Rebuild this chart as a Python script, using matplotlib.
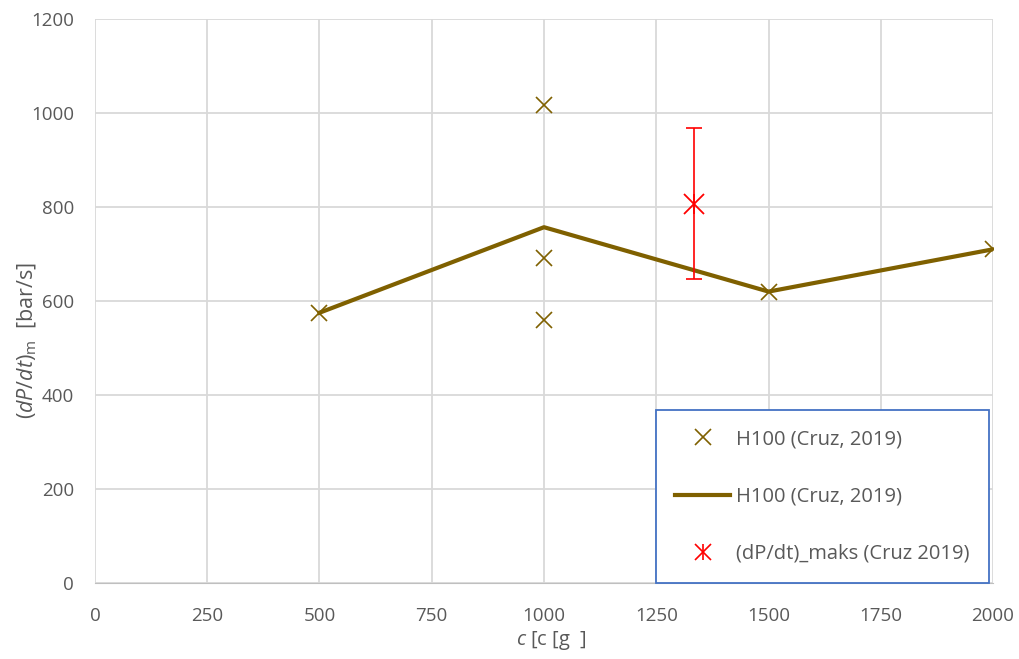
import matplotlib.pyplot as plt
from matplotlib.lines import Line2D
from matplotlib.legend_handler import HandlerTuple

# measured points (H100, Cruz 2019)
c_pts = [500, 1000, 1000, 1000, 1500, 2000]
dpdt_pts = [575, 1018, 692, 560, 620, 710]

# mean curve
c_line = [500, 1000, 1500, 2000]
dpdt_line = [575, 757, 620, 710]

# max rate with error bar
c_max = [1333]
dpdt_max = [807]
err_max = [161]

brown = '#7F6000'
grey = '#595959'

plt.rcParams['font.family'] = ['Open Sans', 'DejaVu Sans']
plt.rcParams['mathtext.fontset'] = 'custom'
plt.rcParams['mathtext.it'] = 'Open Sans:italic'
plt.rcParams['mathtext.rm'] = 'Open Sans'

fig = plt.figure(figsize=(10.19, 6.59), dpi=100)
ax = fig.add_axes([0.0932, 0.1153, 0.8813, 0.8559])

ax.plot(c_line, dpdt_line, '-', color=brown, lw=3, zorder=3)
ax.plot(c_pts, dpdt_pts, 'x', color=brown, ms=12, mew=1.2, zorder=4)
ax.errorbar(c_max, dpdt_max, yerr=err_max, fmt='none', ecolor='red',
            elinewidth=1.2, capsize=6, capthick=1.2, zorder=5)
# star marker: x plus vertical stroke
ax.plot(c_max, dpdt_max, 'x', color='red', ms=15, mew=1.3, zorder=6)
ax.plot(c_max, dpdt_max, '|', color='red', ms=15, mew=1.3, zorder=6)

ax.set_xlim(0, 2000)
ax.set_ylim(0, 1200)
ax.set_xticks(range(0, 2001, 250))
ax.set_yticks(range(0, 1201, 200))
ax.grid(True, color='#D9D9D9', lw=1.3)
ax.set_axisbelow(True)
for s in ['top', 'right', 'left']:
    ax.spines[s].set_visible(False)
ax.spines['bottom'].set_color('#BFBFBF')
ax.tick_params(length=0, labelsize=13.5, colors=grey)
ax.tick_params(axis='x', pad=17)
ax.tick_params(axis='y', pad=15)

ax.set_xlabel(r'$c$ [c [g  ]', fontsize=14.5, color=grey)
ax.xaxis.set_label_coords(0.508, -0.082)
ax.set_ylabel(r'$(dP/dt)_\mathrm{m}$  [bar/s]', fontsize=15.5, color=grey)
ax.yaxis.set_label_coords(-0.062, 0.43)

star = (Line2D([], [], marker='x', color='red', ls='none', ms=12, mew=1.2),
        Line2D([], [], marker='|', color='red', ls='none', ms=12, mew=1.2))
handles = [
    Line2D([], [], marker='x', color=brown, ls='none', ms=11, mew=1.2),
    Line2D([], [], color=brown, lw=3),
    star,
]
labels = ['H100 (Cruz, 2019)', 'H100 (Cruz, 2019)', '(dP/dt)_maks (Cruz 2019)']
leg = ax.legend(handles, labels, loc='lower right', bbox_to_anchor=(0.9955, 0.0),
                fontsize=14.5, labelspacing=1.85, handlelength=2.75,
                handletextpad=0.3, borderpad=0.95, borderaxespad=0,
                fancybox=False, framealpha=1, edgecolor='#4472C4',
                labelcolor=grey, handler_map={tuple: HandlerTuple(ndivide=1, pad=0)})
leg.get_frame().set_linewidth(1.3)

fig.savefig('out.png', dpi=100)
